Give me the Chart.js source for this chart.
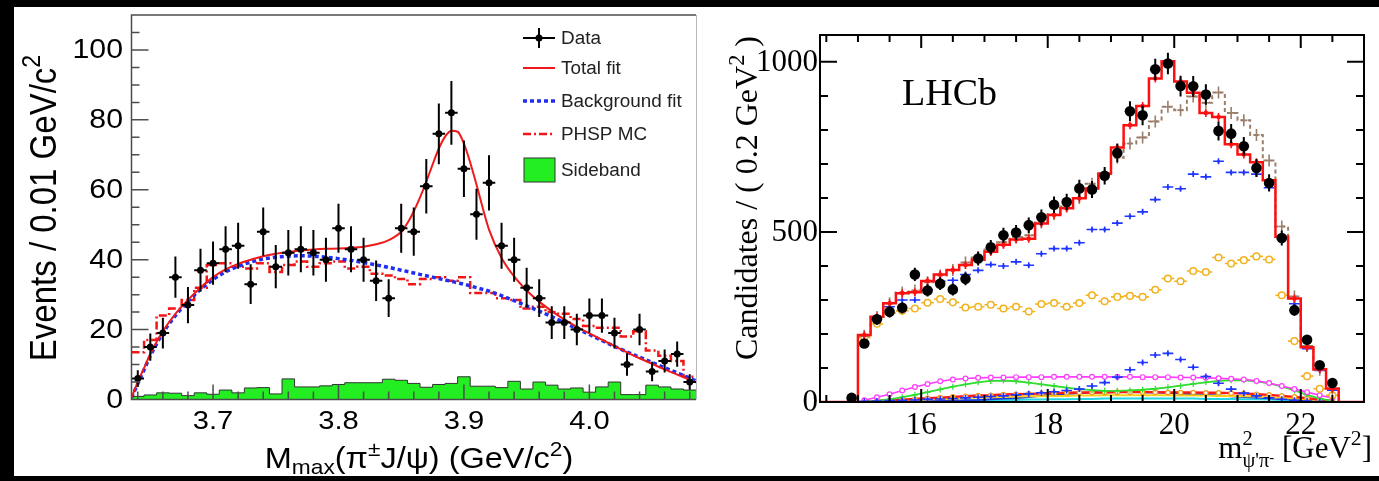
<!DOCTYPE html>
<html>
<head>
<meta charset="utf-8">
<script src="https://cdn.jsdelivr.net/npm/chart.js@4.4.0/dist/chart.umd.min.js"></script>
<style>
  html, body { margin: 0; padding: 0; background: #000; }
  body { width: 1379px; height: 481px; position: relative; overflow: hidden; }
  .panel { position: absolute; background: #fff; }
  .panel canvas { display: block; }
  #massPanel { left: 14px; top: 7px; width: 686px; height: 469px; }
  #m2Panel { left: 700px; top: 7px; width: 679px; height: 469px; }
</style>
</head>
<body>
<div class="panel" id="massPanel"><canvas id="massChart" width="686" height="469"></canvas></div>
<div class="panel" id="m2Panel"><canvas id="m2Chart" width="679" height="469"></canvas></div>
<script>
// ---- Left panel: M_max(pi J/psi), 0.01 GeV bins ----
const massBinLow = 3.635;
const massBinWidth = 0.01;
const massEvents = [6, 15, 19, 35, 27, 37, 39, 43, 44, 33, 48, 38, 42, 43, 42, 40, 49, 43, 40, 34,
  29, 49, 48, 61, 76, 82, 66, 53, 62, 44, 40, 32, 29, 22, 22, 20, 24, 24, 19, 10, 20, 8, 11, 13, 5];
const massEventErr = [2.4, 3.9, 4.4, 5.9, 5.2, 6.1, 6.2, 6.6, 6.6, 5.7, 6.9, 6.2, 6.5, 6.6, 6.5, 6.3, 7, 6.6, 6.3, 5.8,
  5.4, 7, 6.9, 7.8, 8.7, 9.1, 8.1, 7.3, 7.9, 6.6, 6.3, 5.7, 5.4, 4.7, 4.7, 4.5, 4.9, 4.9, 4.4, 3.2, 4.5, 2.8, 3.3, 3.6, 2.2];
const sidebandCounts = [0.9, 1.3, 1.9, 1.8, 1.1, 1.9, 1.5, 2.7, 1.9, 3.3, 3.4, 1.6, 5.9, 3.6, 3.6, 3.9, 4.3, 4.8, 4.8, 4.8,
  5.8, 5.5, 4.6, 3.5, 4.3, 4.6, 6.5, 3.8, 3.8, 3.4, 5.2, 3.0, 5.0, 4.1, 3.0, 3.3, 2.1, 3.6, 5.0, 1.4, 1.4, 4.1, 3.6, 3.0, 2.7];
const phspCounts = [13.5, 17, 24, 26, 28.5, 32, 38.5, 39, 38, 37.5, 39, 36.5, 38.5, 39.5, 38, 39, 39.5, 37.5, 38, 36,
  35.5, 34.5, 33, 34.5, 35, 34, 35, 30.5, 30.5, 29, 28.5, 26, 26.5, 25, 24.5, 23, 21, 20.5, 20.5, 18, 19.5, 14, 12.5, 11, 6.5];
const fitMass = [3.635, 3.64, 3.645, 3.65, 3.66, 3.67, 3.68, 3.69, 3.70, 3.71, 3.72, 3.73, 3.74, 3.75, 3.76, 3.77, 3.78,
  3.79, 3.80, 3.81, 3.82, 3.83, 3.84, 3.85, 3.855, 3.86, 3.865, 3.87, 3.875, 3.88, 3.885, 3.89, 3.895, 3.90, 3.905,
  3.91, 3.915, 3.92, 3.93, 3.94, 3.95, 3.96, 3.97, 3.98, 3.99, 4.00, 4.01, 4.02, 4.03, 4.04, 4.05, 4.06, 4.07, 4.08, 4.085];
const totalFit = [0.5, 5, 9, 13, 19.5, 24.5, 28.5, 32, 35, 37.2, 38.8, 40, 41, 41.7, 42.2, 42.6, 42.9,
  43.1, 43.2, 43.4, 43.7, 44.4, 45.6, 48, 50.5, 53.8, 57.8, 62.3, 67.2, 71.8, 75.2, 76.9, 76.6, 73.2, 67.8,
  61.5, 54.8, 48.6, 40.5, 35.2, 31.2, 28, 25.3, 22.9, 20.8, 18.9, 17.1, 15.3, 13.5, 11.8, 10.2, 8.6, 7.1, 5.6, 4.9];
const bkgFit = [0.5, 4.5, 8.5, 12.5, 19, 24, 28, 31.5, 34.3, 36.5, 38.1, 39.3, 40.2, 40.7, 41, 41.1, 41,
  40.7, 40.3, 39.8, 39.2, 38.5, 37.8, 37, 36.6, 36.2, 35.8, 35.4, 35, 34.6, 34.2, 33.8, 33.4, 33, 32.5,
  32, 31.5, 31, 29.7, 28.3, 26.8, 25.3, 23.7, 22, 20.3, 18.6, 16.9, 15.2, 13.6, 12.1, 10.6, 9.1, 7.6, 6.1, 5.3];
const massYTicks = [0, 20, 40, 60, 80, 100];
const massXTicks = [3.7, 3.8, 3.9, 4.0];
const massXLabels = ['3.7', '3.8', '3.9', '4.0'];

// ---- Right panel: m^2(psi' pi-), 0.2 GeV^2 bins ----
const m2BinLow = 15.0;
const m2BinWidth = 0.2;
const candBinLow = 14.8;
const candidates = [12, 172, 243, 265, 277, 375, 328, 348, 331, 362, 422, 455, 490, 498, 520, 543, 580, 588, 628, 625,
  665, 732, 855, 843, 978, 995, 929, 928, 904, 797, 789, 752, 688, 644, 482, 270, 183, 108, 56];
const candErr = [3.5, 13, 15.6, 16.3, 16.6, 19.4, 18.1, 18.7, 18.2, 19, 20.5, 21.3, 22.1, 22.3, 22.8, 23.3, 24.1, 24.2, 25.1, 25,
  25.8, 27.1, 29.2, 29, 31.3, 31.5, 30.5, 30.5, 30.1, 28.2, 28.1, 27.4, 26.2, 25.4, 22, 16.4, 13.5, 10.4, 7.5];
const fitTotal = [197, 251, 290, 320, 323, 356, 375, 388, 403, 418, 442, 462, 478, 480, 525, 550, 570, 599, 628, 672,
  748, 814, 870, 951, 1002, 942, 909, 850, 838, 758, 728, 705, 652, 486, 304, 161, 96, 40];
const fitAlt = [195, 250, 290, 322, 328, 352, 372, 388, 410, 425, 448, 470, 485, 490, 528, 552, 575, 600, 642, 665,
  718, 760, 778, 825, 868, 858, 898, 880, 910, 850, 828, 785, 710, 516, 310, 165, 95, 38];
const compBlue = [195, 248, 280, 300, 300, 330, 355, 358, 375, 387, 404, 400, 412, 402, 436, 451, 451, 468, 507, 507,
  526, 546, 559, 595, 632, 627, 670, 662, 708, 675, 675, 670, 630, 483, 289, 157, 93, 35];
const compOrange = [190, 230, 262, 268, 275, 292, 303, 293, 278, 280, 286, 275, 280, 266, 288, 291, 280, 291, 314, 296,
  309, 312, 309, 330, 363, 355, 385, 382, 425, 407, 417, 428, 419, 314, 179, 76, 39, 20];
const compBluePeak = [2, 3, 4, 5, 6, 8, 9, 10, 12, 14, 16, 18, 21, 24, 27, 30, 34, 38, 47, 57,
  73, 95, 116, 138, 143, 125, 102, 75, 55, 38, 26, 18, 12, 8, 5, 3, 1, 0];
const compMagenta = [5, 14, 23, 34, 44, 53, 61, 66, 69, 71, 72, 72, 73, 73, 73, 74, 74, 74, 74, 74,
  74, 74, 73, 73, 73, 72, 72, 71, 70, 68, 66, 62, 56, 47, 38, 29, 20, 12];
const compGreen = [1, 4, 8, 14, 21, 29, 37, 45, 52, 58, 62, 63, 61, 57, 52, 47, 42, 38, 35, 33,
  33, 34, 36, 39, 43, 48, 53, 58, 62, 64, 64, 61, 55, 46, 34, 21, 10, 3];
const compRed = [1, 3, 5, 7, 9, 11, 13, 15, 17, 19, 20, 22, 23, 24, 25, 26, 27, 28, 28, 28,
  29, 29, 29, 29, 28, 28, 28, 27, 27, 26, 25, 23, 21, 18, 15, 11, 7, 3];
const compYellow = [0, 2, 3, 5, 6, 8, 9, 10, 12, 13, 14, 15, 16, 17, 17, 18, 18, 19, 19, 20,
  20, 20, 20, 20, 20, 19, 19, 19, 18, 18, 17, 16, 14, 12, 10, 7, 4, 2];
const compNavy = [0, 0, 0, 1, 1, 2, 3, 4, 5, 6, 8, 10, 12, 15, 18, 21, 24, 26, 28, 29,
  30, 30, 29, 28, 27, 25, 23, 21, 19, 17, 15, 13, 11, 9, 7, 5, 3, 1];
const compCyan = [0, 0, 1, 1, 2, 2, 3, 3, 4, 5, 5, 6, 6, 7, 7, 8, 8, 9, 9, 10,
  10, 10, 10, 10, 10, 10, 10, 9, 9, 9, 8, 8, 7, 6, 5, 3, 2, 1];
const m2YTicks = [0, 500, 1000];
const m2XTicks = [16, 18, 20, 22];

const SANS = "'Liberation Sans', Arial, sans-serif";
const SERIF = "'Liberation Serif', 'Times New Roman', serif";
const STRETCH = 1.12;   // the left figure is slightly wide-set

// helpers
function atCenters(low, width, values) {
  return values.map((v, i) => ({ x: low + (i + 0.5) * width, y: v }));
}
// left-edge points for a 'before' stepped line
function histPoints(low, width, values, xmin, xmax) {
  const pts = [];
  if (xmin !== undefined) pts.push({ x: xmin, y: 0 });
  values.forEach((v, i) => pts.push({ x: low + i * width, y: v }));
  const end = low + values.length * width;
  if (xmax !== undefined) {
    pts.push({ x: end, y: 0 });
    pts.push({ x: xmax, y: 0 });
  } else {
    pts.push({ x: end, y: values[values.length - 1] });
  }
  return pts;
}
function zipXY(xs, ys) {
  return xs.map((x, i) => ({ x: x, y: ys[i] }));
}

// text with sub/superscripts; parts like {t:'max', sub:true}
function layoutRich(ctx, parts, size, family) {
  let w = 0;
  const items = [];
  parts.forEach(p => {
    if (p.stack) {
      ctx.font = (size * 0.66) + 'px ' + family;
      const ws = ctx.measureText(p.sup).width;
      const wb = ctx.measureText(p.sub).width;
      ctx.font = (size * 0.48) + 'px ' + family;
      const wbs = ctx.measureText(p.subsup).width;
      items.push({ p: p, x: w, wb: wb });
      w += Math.max(ws, wb + wbs);
    } else {
      const fs = (p.sub || p.sup) ? size * 0.7 : size;
      ctx.font = fs + 'px ' + family;
      items.push({ p: p, x: w, fs: fs });
      w += ctx.measureText(p.t).width;
    }
  });
  return { items: items, w: w };
}
function drawRich(ctx, parts, x, y, size, family, align) {
  const lay = layoutRich(ctx, parts, size, family);
  const x0 = align === 'center' ? x - lay.w / 2 : (align === 'right' ? x - lay.w : x);
  ctx.textAlign = 'left';
  ctx.textBaseline = 'alphabetic';
  lay.items.forEach(it => {
    const p = it.p;
    if (p.stack) {
      ctx.font = (size * 0.66) + 'px ' + family;
      ctx.fillText(p.sup, x0 + it.x, y - size * 0.42);
      ctx.fillText(p.sub, x0 + it.x, y + size * 0.3);
      ctx.font = (size * 0.48) + 'px ' + family;
      ctx.fillText(p.subsup, x0 + it.x + it.wb, y + size * 0.12);
    } else {
      ctx.font = it.fs + 'px ' + family;
      const dy = p.sub ? size * 0.22 : (p.sup ? -size * 0.42 : 0);
      ctx.fillText(p.t, x0 + it.x, y + dy);
    }
  });
}
function wideText(ctx, text, x, y, sx) {
  ctx.save();
  ctx.translate(x, y);
  ctx.scale(sx, 1);
  ctx.fillText(text, 0, 0);
  ctx.restore();
}

// error bars / crosses, drawn under each dataset's markers
const errorBars = {
  id: 'errorBars',
  beforeDatasetDraw(chart, args) {
    const ds = chart.data.datasets[args.index];
    if (!ds.err) return;
    const e = ds.err;
    const ctx = chart.ctx, a = chart.chartArea;
    const xs = chart.scales.x, ys = chart.scales.y;
    ctx.save();
    ctx.beginPath();
    ctx.rect(a.left, a.top, a.right - a.left, a.bottom - a.top);
    ctx.clip();
    ctx.strokeStyle = e.color;
    ctx.lineWidth = e.width;
    ctx.beginPath();
    ds.data.forEach((p, i) => {
      const px = xs.getPixelForValue(p.x), py = ys.getPixelForValue(p.y);
      if (e.dx) {
        ctx.moveTo(xs.getPixelForValue(p.x - e.dx), py);
        ctx.lineTo(xs.getPixelForValue(p.x + e.dx), py);
      }
      if (e.dy) {
        const d = Array.isArray(e.dy) ? e.dy[i] : e.dy;
        ctx.moveTo(px, ys.getPixelForValue(p.y - d));
        ctx.lineTo(px, ys.getPixelForValue(p.y + d));
      }
      if (e.px) {
        ctx.moveTo(px, py - e.px);
        ctx.lineTo(px, py + e.px);
      }
    });
    ctx.stroke();
    ctx.restore();
  }
};

// ROOT-style frame, inward ticks, labels and legend for the left panel
const massFrame = {
  id: 'massFrame',
  afterDatasetsDraw(chart) {
    const ctx = chart.ctx, a = chart.chartArea;
    const xs = chart.scales.x, ys = chart.scales.y;
    ctx.save();
    ctx.strokeStyle = '#4d4d4d';
    ctx.lineWidth = 1.5;
    ctx.beginPath();
    ctx.moveTo(a.right, a.top); ctx.lineTo(a.left, a.top); ctx.lineTo(a.left, a.bottom); ctx.lineTo(a.right, a.bottom);
    for (let v = 0; v <= 105; v += 5) {
      const py = ys.getPixelForValue(v);
      const len = v % 20 === 0 ? 17 : 8;
      ctx.moveTo(a.left, py); ctx.lineTo(a.left + len, py);
    }
    for (let k = 0; k <= 22; k++) {
      const v = 3.64 + k * 0.02;
      const major = massXTicks.some(t => Math.abs(t - v) < 1e-6);
      const px = xs.getPixelForValue(v);
      ctx.moveTo(px, a.bottom); ctx.lineTo(px, a.bottom - (major ? 15 : 8));
    }
    ctx.stroke();
    ctx.strokeStyle = '#b8b8b8';
    ctx.lineWidth = 1;
    ctx.beginPath();
    ctx.moveTo(a.right + 0.5, a.top); ctx.lineTo(a.right + 0.5, a.bottom);
    ctx.stroke();

    ctx.fillStyle = '#000';
    ctx.font = '27px ' + SANS;
    ctx.textAlign = 'right';
    ctx.textBaseline = 'middle';
    massYTicks.forEach(v => wideText(ctx, String(v), 109, ys.getPixelForValue(v) + 1, STRETCH));
    ctx.font = '26px ' + SANS;
    ctx.textAlign = 'center';
    ctx.textBaseline = 'alphabetic';
    massXTicks.forEach((v, i) => wideText(ctx, massXLabels[i], xs.getPixelForValue(v), 422, STRETCH));

    // axis titles
    ctx.save();
    ctx.translate(405, 461);
    ctx.scale(STRETCH, 1);
    drawRich(ctx, [{ t: 'M' }, { t: 'max', sub: true }, { t: '(π' }, { t: '±', sup: true },
      { t: 'J/ψ) (GeV/c' }, { t: '2', sup: true }, { t: ')' }], 0, 0, 29, SANS, 'center');
    ctx.restore();
    ctx.save();
    ctx.translate(42, 201);
    ctx.scale(STRETCH, 1);
    ctx.rotate(-Math.PI / 2);
    drawRich(ctx, [{ t: 'Events / 0.01 GeV/c' }, { t: '2', sup: true }], 0, 0, 33, SANS, 'center');
    ctx.restore();

    // legend
    const ds = chart.data.datasets;
    const rows = [31, 61, 94, 127, 163];
    const x0 = 509, x1 = 541, tx = 547;
    ctx.lineWidth = 2;
    ctx.strokeStyle = '#000';
    ctx.beginPath();
    ctx.moveTo(x0, rows[0]); ctx.lineTo(x1, rows[0]);
    ctx.moveTo((x0 + x1) / 2, rows[0] - 10); ctx.lineTo((x0 + x1) / 2, rows[0] + 10);
    ctx.stroke();
    ctx.fillStyle = '#000';
    ctx.beginPath(); ctx.arc((x0 + x1) / 2, rows[0], 3.5, 0, Math.PI * 2); ctx.fill();
    [1, 2, 3].forEach(k => {
      ctx.strokeStyle = ds[k].borderColor;
      ctx.lineWidth = ds[k].borderWidth;
      ctx.setLineDash(ds[k].borderDash || []);
      ctx.beginPath(); ctx.moveTo(x0, rows[k]); ctx.lineTo(x1, rows[k]); ctx.stroke();
    });
    ctx.setLineDash([]);
    ctx.fillStyle = ds[4].backgroundColor;
    ctx.fillRect(x0 + 1, rows[4] - 12, x1 - x0 - 1, 24);
    ctx.strokeStyle = '#333';
    ctx.lineWidth = 1;
    ctx.strokeRect(x0 + 1, rows[4] - 12, x1 - x0 - 1, 24);
    ctx.fillStyle = '#222';
    ctx.font = '18px ' + SANS;
    ctx.textAlign = 'left';
    ctx.textBaseline = 'middle';
    ds.forEach((d, k) => wideText(ctx, d.label, tx, rows[k] + 1, 1.05));
    ctx.restore();
  }
};

// frame with ticks on all four sides, labels and titles for the right panel
const m2Frame = {
  id: 'm2Frame',
  afterDatasetsDraw(chart) {
    const ctx = chart.ctx, a = chart.chartArea;
    const xs = chart.scales.x, ys = chart.scales.y;
    ctx.save();
    ctx.strokeStyle = '#000';
    ctx.lineWidth = 2;
    ctx.strokeRect(a.left, a.top, a.right - a.left, a.bottom - a.top);
    ctx.beginPath();
    for (let v = 0; v <= 1000; v += 100) {
      const py = ys.getPixelForValue(v);
      const len = v % 500 === 0 ? 17 : 8;
      ctx.moveTo(a.left, py); ctx.lineTo(a.left + len, py);
      ctx.moveTo(a.right, py); ctx.lineTo(a.right - len, py);
    }
    for (let v = 14.5; v < 23; v += 0.5) {
      const px = xs.getPixelForValue(v);
      const len = v % 2 === 0 ? 13 : 7;
      ctx.moveTo(px, a.bottom); ctx.lineTo(px, a.bottom - len);
      ctx.moveTo(px, a.top); ctx.lineTo(px, a.top + len);
    }
    ctx.stroke();

    ctx.fillStyle = '#000';
    ctx.font = '31px ' + SERIF;
    ctx.textAlign = 'right';
    ctx.textBaseline = 'middle';
    m2YTicks.forEach(v => ctx.fillText(String(v), a.left - 2, ys.getPixelForValue(v) + 1));
    ctx.textAlign = 'center';
    m2XTicks.forEach(v => ctx.fillText(String(v), xs.getPixelForValue(v), 419));

    drawRich(ctx, [{ t: 'm' }, { stack: true, sup: '2', sub: "ψ'π", subsup: '-' }, { t: ' [GeV' },
      { t: '2', sup: true }, { t: ']' }], 672, 451, 31, SERIF, 'right');
    ctx.save();
    ctx.translate(57, 191);
    ctx.rotate(-Math.PI / 2);
    drawRich(ctx, [{ t: 'Candidates / ( 0.2 GeV' }, { t: '2', sup: true }, { t: ' )' }], 0, 0, 32, SERIF, 'center');
    ctx.restore();

    ctx.font = '38px ' + SERIF;
    ctx.textAlign = 'left';
    ctx.textBaseline = 'alphabetic';
    ctx.fillText('LHCb', 202, 98);
    ctx.restore();
  }
};

const noDecor = { legend: { display: false }, tooltip: { enabled: false } };

new Chart(document.getElementById('massChart'), {
  type: 'scatter',
  data: {
    datasets: [
      {
        label: 'Data',
        data: atCenters(massBinLow, massBinWidth, massEvents),
        pointRadius: 3.5, pointBackgroundColor: '#000', pointBorderWidth: 0,
        err: { dx: massBinWidth / 2, dy: massEventErr, color: '#000', width: 2 }
      },
      {
        label: 'Total fit',
        data: zipXY(fitMass, totalFit),
        showLine: true, borderColor: '#f01a1a', borderWidth: 2, pointRadius: 0,
        cubicInterpolationMode: 'monotone'
      },
      {
        label: 'Background fit',
        data: zipXY(fitMass, bkgFit),
        showLine: true, borderColor: '#1f2ef0', borderWidth: 3.5, borderDash: [4, 3], pointRadius: 0,
        cubicInterpolationMode: 'monotone'
      },
      {
        label: 'PHSP MC',
        data: histPoints(massBinLow, massBinWidth, phspCounts),
        showLine: true, stepped: 'before', borderColor: '#f21616', borderWidth: 2.5,
        borderDash: [8, 3, 2, 3], pointRadius: 0
      },
      {
        label: 'Sideband',
        data: histPoints(massBinLow, massBinWidth, sidebandCounts),
        showLine: true, stepped: 'before', fill: 'origin', backgroundColor: '#22ee22',
        borderColor: '#333', borderWidth: 1, pointRadius: 0
      }
    ]
  },
  options: {
    responsive: false,
    animation: false,
    devicePixelRatio: 1,
    layout: { padding: { left: 117.5, right: 0.5, top: 8, bottom: 76.5 } },
    scales: {
      x: { type: 'linear', min: 3.635, max: 4.085, display: false },
      y: { type: 'linear', min: 0, max: 110, display: false }
    },
    plugins: noDecor
  },
  plugins: [errorBars, massFrame]
});

const crossStyle = (color, dx, px) => ({ dx: dx, px: px, color: color, width: 1.6 });

new Chart(document.getElementById('m2Chart'), {
  type: 'scatter',
  data: {
    datasets: [
      {
        label: 'Data',
        data: atCenters(candBinLow, m2BinWidth, candidates),
        pointRadius: 5.3, pointBackgroundColor: '#000', pointBorderWidth: 0,
        err: { dy: candErr, color: '#000', width: 2 }
      },
      {
        label: 'Fit',
        data: histPoints(m2BinLow, m2BinWidth, fitTotal, 14.4, 23.0),
        showLine: true, stepped: 'before', borderColor: '#ff1010', borderWidth: 2.5, pointRadius: 0
      },
      {
        label: 'Fit bins',
        data: atCenters(m2BinLow, m2BinWidth, fitTotal),
        pointRadius: 2.3, pointBackgroundColor: '#ff1010', pointBorderWidth: 0,
        err: crossStyle('#ff1010', 0, 4)
      },
      {
        label: 'Alternative fit',
        data: histPoints(m2BinLow, m2BinWidth, fitAlt, 14.4, 23.0),
        showLine: true, stepped: 'before', borderColor: '#9a7e6a', borderWidth: 2, borderDash: [4, 3], pointRadius: 0
      },
      {
        label: 'Alternative fit bins',
        data: atCenters(m2BinLow, m2BinWidth, fitAlt),
        pointRadius: 0,
        err: crossStyle('#9a7e6a', 0.05, 6)
      },
      {
        label: 'Component 1',
        data: atCenters(m2BinLow, m2BinWidth, compBlue),
        pointRadius: 1.5, pointBackgroundColor: '#2036ff', pointBorderWidth: 0,
        err: crossStyle('#2036ff', 0.085, 3)
      },
      {
        label: 'Component 2',
        data: atCenters(m2BinLow, m2BinWidth, compOrange),
        pointRadius: 3.3, pointBackgroundColor: '#fff', pointBorderColor: '#f2b21c', pointBorderWidth: 1.5,
        err: crossStyle('#f2b21c', 0.1, 0)
      },
      {
        label: 'Component 3',
        data: atCenters(m2BinLow, m2BinWidth, compBluePeak),
        pointRadius: 1.5, pointBackgroundColor: '#2036ff', pointBorderWidth: 0,
        err: crossStyle('#2036ff', 0.085, 3)
      },
      {
        label: 'Component 4',
        data: atCenters(m2BinLow, m2BinWidth, compMagenta),
        showLine: true, borderColor: '#ff3cff', borderWidth: 1.6,
        pointRadius: 2.4, pointBackgroundColor: '#fff', pointBorderColor: '#ff3cff', pointBorderWidth: 1.2
      },
      {
        label: 'Component 5',
        data: atCenters(m2BinLow, m2BinWidth, compGreen),
        showLine: true, borderColor: '#2fdc2f', borderWidth: 1.8,
        pointStyle: 'cross', pointRadius: 3, pointBorderColor: '#2fdc2f', pointBorderWidth: 1.2
      },
      {
        label: 'Component 6',
        data: atCenters(m2BinLow, m2BinWidth, compRed),
        showLine: true, borderColor: '#ff1a1a', borderWidth: 2.4,
        pointRadius: 2.2, pointBackgroundColor: '#fff', pointBorderColor: '#f29a1a', pointBorderWidth: 1.2
      },
      {
        label: 'Component 7',
        data: atCenters(m2BinLow, m2BinWidth, compYellow),
        showLine: true, borderColor: '#ffd21a', borderWidth: 2, pointRadius: 0
      },
      {
        label: 'Component 8',
        data: atCenters(m2BinLow, m2BinWidth, compNavy),
        showLine: true, borderColor: '#1d3ad6', borderWidth: 2, pointRadius: 0
      },
      {
        label: 'Component 9',
        data: atCenters(m2BinLow, m2BinWidth, compCyan),
        showLine: true, borderColor: '#22d6e6', borderWidth: 2, pointRadius: 0
      }
    ]
  },
  options: {
    responsive: false,
    animation: false,
    devicePixelRatio: 1,
    layout: { padding: { left: 120, right: 15, top: 28, bottom: 74 } },
    scales: {
      x: { type: 'linear', min: 14.4, max: 23.0, display: false },
      y: { type: 'linear', min: 0, max: 1079, display: false }
    },
    plugins: noDecor
  },
  plugins: [errorBars, m2Frame]
});
</script>
</body>
</html>
